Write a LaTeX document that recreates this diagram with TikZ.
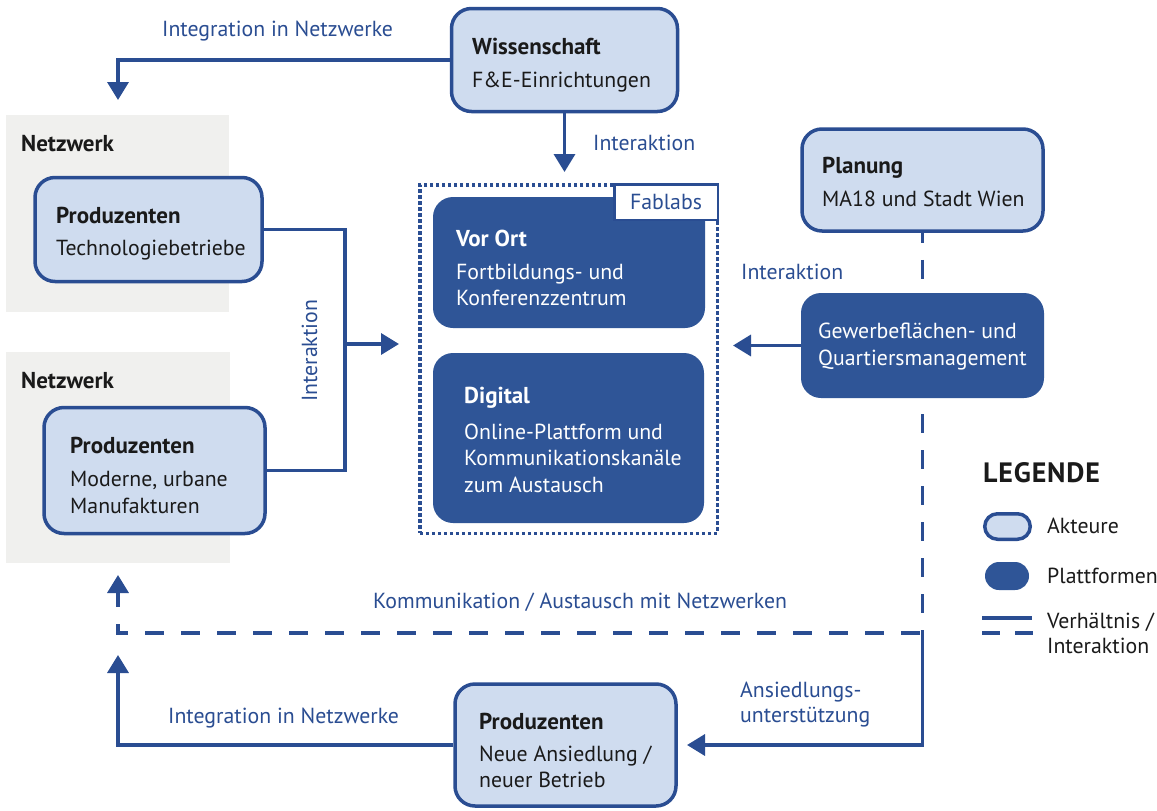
\documentclass[tikz,border=0pt]{standalone}
\usepackage{fontspec}
\setmainfont{PT Sans}
\usetikzlibrary{arrows.meta}
\definecolor{lineblue}{HTML}{2A4D92}
\definecolor{platblue}{HTML}{2F5597}
\definecolor{actorfill}{HTML}{CFDCEF}
\definecolor{netgray}{HTML}{F0F0EE}
\definecolor{ink}{HTML}{1A1A1A}
\newcommand\bodysize{\fontsize{21.8}{26}\selectfont}
\newcommand\titlesize{\fontsize{23}{27}\selectfont}
\newcommand\legsize{\fontsize{28}{32}\selectfont\addfontfeature{LetterSpace=3}}
\begin{document}
\begin{tikzpicture}[x=1pt,y=-1pt,
  actor/.style={draw=lineblue, line width=3.5pt, fill=actorfill, rounded corners=20pt, inner sep=0pt},
  platform/.style={fill=platblue, rounded corners=20pt, inner sep=0pt},
  net/.style={fill=netgray, inner sep=0pt},
  conn/.style={draw=lineblue, line width=3.5pt},
  dashconn/.style={conn, dash pattern=on 19pt off 17pt},
  tipend/.style={-{Triangle[width=21pt,length=18pt]}},
  title/.style={anchor=base west, inner sep=0pt, font=\titlesize\bfseries, text=ink},
  body/.style={anchor=base west, inner sep=0pt, font=\bodysize, text=ink},
  wtitle/.style={title, text=white},
  wbody/.style={body, text=white},
  lbl/.style={anchor=base west, inner sep=0pt, font=\bodysize, text=lineblue},
  sz/.style args={#1x#2}{minimum width=#1pt, minimum height=#2pt}
]
% canvas
\fill[white] (0,0) rectangle (1157,811);
\useasboundingbox (0,0) rectangle (1157,811);

% network backgrounds
\node[net, sz=223x197] (net1) at (117.5,213.5) {};
\node[net, sz=224x211] (net2) at (118,457.5) {};
\node[title] (net1t) at (21,151) {Netzwerk};
\node[title] (net2t) at (21,388) {Netzwerk};

% fablab frame and platforms
\node[platform, sz=272x131] (vor) at (569,262.5) {};
\node[platform, sz=271x170] (dig) at (568.5,438) {};
\node[draw=lineblue, line width=3.5pt, dash pattern=on 3.5pt off 2.5pt, inner sep=0pt, sz=297.5x348.5] (fab) at (568.5,359) {};
\node[draw=lineblue, line width=2.5pt, fill=white, inner sep=0pt, sz=103.5x35.5,
      font=\bodysize, text=lineblue] (fabt) at (666,202) {Fablabs};

\node[wtitle] (vort) at (456,246) {Vor Ort};
\node[wbody] (vorb1) at (456,279) {Fortbildungs- und};
\node[wbody] (vorb2) at (456,305) {Konferenzzentrum};

\node[wtitle] (digt) at (464,403) {Digital};
\node[wbody] (digb1) at (464,439) {Online-Plattform und};
\node[wbody] (digb2) at (464,465) {Kommunikationskanäle};
\node[wbody] (digb3) at (464,492) {zum Austausch};

% actors
\node[actor, sz=226x103] (wis) at (564.5,60) {};
\node[title] (wist) at (472,54) {Wissenschaft};
\node[body] (wisb) at (472,87) {F\&E-Einrichtungen};

\node[actor, sz=227x104] (p1) at (148.5,229.5) {};
\node[title] (p1t) at (56,223) {Produzenten};
\node[body] (p1b) at (56,255) {Technologiebetriebe};

\node[actor, sz=221x126] (p2) at (154.5,470.5) {};
\node[title] (p2t) at (70,453) {Produzenten};
\node[body] (p2b1) at (70,486) {Moderne, urbane};
\node[body] (p2b2) at (70,513) {Manufakturen};

\node[actor, sz=241x102] (plan) at (922.5,180) {};
\node[title] (plant) at (822,173) {Planung};
\node[body] (planb) at (822,206) {MA18 und Stadt Wien};

\node[platform, sz=243x105] (gew) at (922.5,345.5) {};
\node[wbody] (gewb1) at (818,338) {Gewerbeflächen- und};
\node[wbody] (gewb2) at (818,365) {Quartiersmanagement};

\node[actor, sz=221x122] (pnew) at (565.5,745) {};
\node[title] (pnewt) at (479,729) {Produzenten};
\node[body] (pnewb1) at (479,761) {Neue Ansiedlung /};
\node[body] (pnewb2) at (479,787) {neuer Betrieb};

% connector end points
\coordinate (net1in) at (118,100);
\coordinate (fabtop) at (564.5,172);
\coordinate (jtop) at (345,229.5);
\coordinate (jbot) at (345,470.5);
\coordinate (jmid) at (345,344);
\coordinate (fableft) at (399,344);
\coordinate (fabright) at (733,345.5);
\coordinate (cornerR) at (922.5,633);
\coordinate (cornerL) at (118,633);
\coordinate (net2in) at (118,575);
\coordinate (bendB) at (922.5,745);
\coordinate (pnewin) at (687,745);
\coordinate (bendL) at (118,745);
\coordinate (net2in2) at (118,655);

% connectors
\draw[conn, tipend] (wis.west) -| (net1in);
\draw[conn, tipend] (wis.south) -- (fabtop);
\draw[conn] (p1.east) -- (jtop) -- (jbot) -- (p2.east);
\draw[conn, tipend] (jmid) -- (fableft);
\draw[conn, tipend] (gew.west) -- (fabright);
\draw[dashconn, dash phase=9pt] (plan.south) -- (gew.north);
\draw[dashconn, dash phase=20pt] (gew.south) -- (cornerR);
\draw[dashconn, dash phase=33pt, tipend] (cornerR) -- (cornerL) -- (net2in);
\draw[conn, tipend] (cornerR) -- (bendB) -- (pnewin);
\draw[conn, tipend] (pnew.west) -- (bendL) -- (net2in2);

% connector labels
\node[lbl] (l1) at (162,36) {Integration in Netzwerke};
\node[lbl] (l2) at (593,150) {Interaktion};
\node[lbl] (l3) at (741,279) {Interaktion};
\node[lbl, rotate=90] (l4) at (317,402) {Interaktion};
\node[lbl] (l5) at (373,608) {Kommunikation / Austausch mit Netzwerken};
\node[lbl] (l6) at (168,723) {Integration in Netzwerke};
\node[lbl] (l7) at (740,697) {Ansiedlungs-};
\node[lbl] (l8) at (740,722) {unterstützung};

% legend
\node[anchor=base west, inner sep=0pt, font=\legsize\bfseries, text=ink] (leg) at (983,482) {LEGENDE};
\node[actor, rounded corners=12.75pt, sz=45.5x25.5] (legA) at (1007.5,526.5) {};
\node[platform, rounded corners=14pt, sz=44x28] (legP) at (1007,576) {};
\coordinate (legS1) at (982,618);
\coordinate (legS2) at (1032,618);
\coordinate (legD1) at (982,633);
\coordinate (legD2) at (1033,633);
\draw[conn] (legS1) -- (legS2);
\draw[conn, dash pattern=on 18pt off 15pt] (legD1) -- (legD2);
\node[body] (legAt) at (1047,533) {Akteure};
\node[body] (legPt) at (1047,583) {Plattformen};
\node[body] (legLt1) at (1047,628) {Verhältnis /};
\node[body] (legLt2) at (1047,653) {Interaktion};
\end{tikzpicture}
\end{document}
